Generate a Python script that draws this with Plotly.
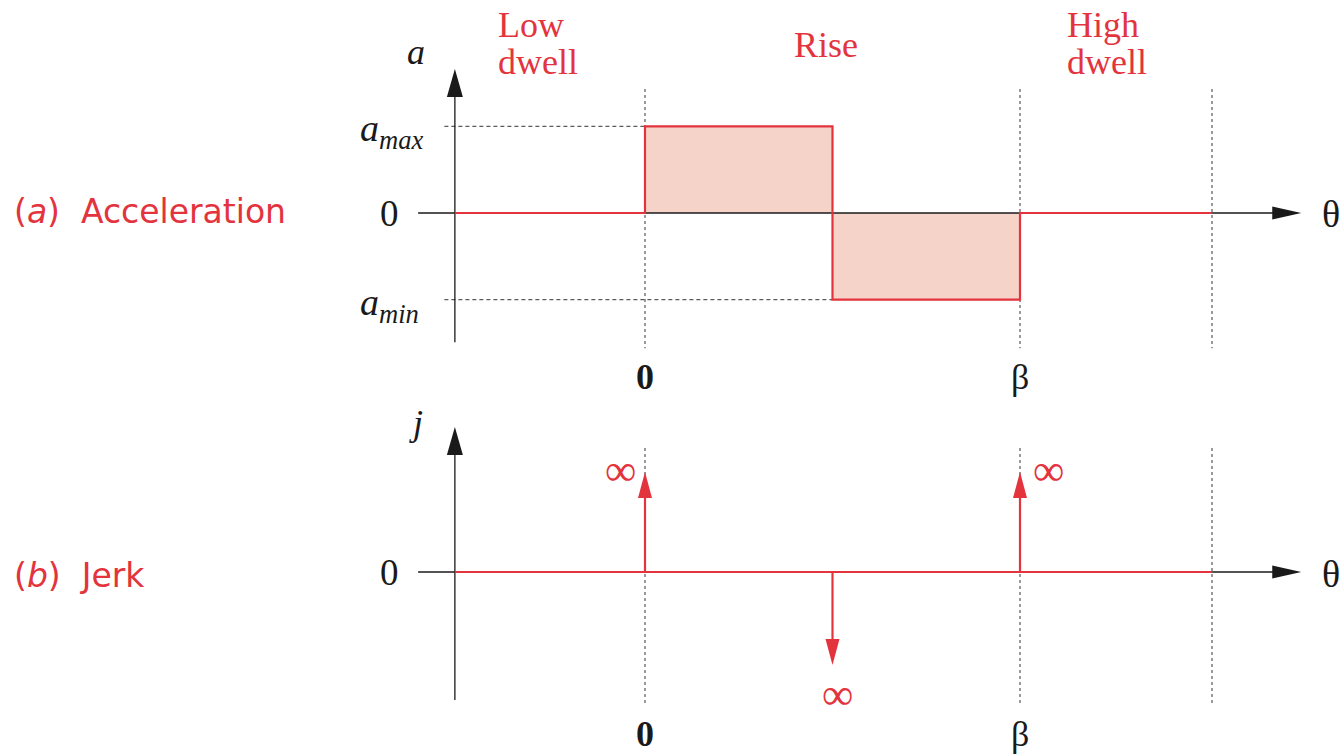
import plotly.graph_objects as go

# ---- cam follower motion: constant-acceleration rise between two dwells ----
# θ is measured in units of the rise angle β
theta_edges = [-0.507, 0.0, 0.5, 1.0, 1.512]      # low dwell | rise (1st half) | rise (2nd half) | high dwell
accel_levels = [0.0, 1.0, -1.0, 0.0]              # a on each segment (a_max = 1, a_min = -1)
jerk_theta = [0.0, 0.5, 1.0]                      # jerk impulses at the acceleration steps
jerk_impulse = [1.0, -0.93, 1.0]                  # drawn impulse height (infinite jerk)
jerk_labels = ["∞", "∞", "∞"]
guide_theta = [0.0, 1.0, 1.512]                   # dotted boundaries between phases
theta_tick_vals = [0.0, 1.0]
theta_tick_text = ["0", "β"]
accel_tick_vals = [1.0, 0.0, -1.0]
accel_tick_text = ["<i>a</i><sub><i>max</i></sub>", "0", "<i>a</i><sub><i>min</i></sub>"]
phase_labels = [["Low", "dwell"], ["Rise"], ["High", "dwell"]]

# ---- page geometry ----
W, H = 1340, 754
X0_PX, PX_PER_BETA = 645, 375.0      # θ = 0 position and scale
A0_PX, PX_PER_A = 213, 86.7          # acceleration zero line and scale
J0_PX, PX_PER_J = 572, 100.0         # jerk zero line and scale

RED = "#E3343E"
PINK = "#F6D3C8"
BLACK = "#1a1a1a"
GREY = "#7a7a7a"
SERIF = "Liberation Serif, Times New Roman, serif"
SANS = "DejaVu Sans, sans-serif"


def px(x):
    return x / W


def py(y):
    return 1 - y / H


axis_theta = theta_edges[0]
x_axis_start, x_axis_tip = -0.605, 1.75
a_axis = (-1.49, 1.66)
j_axis = (-1.28, 1.45)
a_guides = (1.43, -1.56)
j_guides = (1.24, -1.33)
dash_start = -0.535

HEAD_LEN, HEAD_HALF = 28, 8          # black axis arrowheads (px)
IMP_LEN, IMP_HALF = 26, 7            # red impulse arrowheads (px)

# step path of the acceleration curve
acc_x, acc_y = [], []
for i, level in enumerate(accel_levels):
    acc_x += [theta_edges[i], theta_edges[i + 1]]
    acc_y += [level, level]

fig = go.Figure()

# shaded area under acceleration
fig.add_trace(go.Scatter(x=acc_x, y=acc_y, mode="lines", fill="tozeroy",
                         fillcolor=PINK, line=dict(width=0), hoverinfo="skip"))

# dotted phase boundaries
for t in guide_theta:
    fig.add_trace(go.Scatter(x=[t, t], y=list(a_guides), mode="lines",
                             line=dict(color=GREY, width=1.5, dash="3px,3px")))
    fig.add_trace(go.Scatter(x=[t, t], y=list(j_guides), mode="lines", yaxis="y2",
                             line=dict(color=GREY, width=1.5, dash="3px,3px")))

# dashed guides at a_max and a_min
fig.add_trace(go.Scatter(x=[dash_start, theta_edges[1]], y=[accel_levels[1]] * 2, mode="lines",
                         line=dict(color="#333333", width=1, dash="4px,3px")))
fig.add_trace(go.Scatter(x=[dash_start, theta_edges[2]], y=[accel_levels[2]] * 2, mode="lines",
                         line=dict(color="#333333", width=1, dash="4px,3px")))

# black axes (shafts end at the arrowhead bases)
for yref, (lo, hi), scale in (("y", a_axis, PX_PER_A), ("y2", j_axis, PX_PER_J)):
    fig.add_trace(go.Scatter(x=[axis_theta, axis_theta], y=[lo, hi - HEAD_LEN / scale],
                             mode="lines", yaxis=yref, line=dict(color=BLACK, width=1.3)))
    fig.add_trace(go.Scatter(x=[x_axis_start, x_axis_tip - HEAD_LEN / PX_PER_BETA], y=[0, 0],
                             mode="lines", yaxis=yref, line=dict(color=BLACK, width=1.3)))

# acceleration curve
fig.add_trace(go.Scatter(x=acc_x, y=acc_y, mode="lines",
                         line=dict(color=RED, width=2.2)))

# jerk: zero line plus impulses
fig.add_trace(go.Scatter(x=[theta_edges[0], theta_edges[-1]], y=[0, 0], mode="lines", yaxis="y2",
                         line=dict(color=RED, width=2.2)))
for t, j in zip(jerk_theta, jerk_impulse):
    sgn = 1 if j > 0 else -1
    fig.add_trace(go.Scatter(x=[t, t], y=[0, j - sgn * IMP_LEN / PX_PER_J], mode="lines",
                             yaxis="y2", line=dict(color=RED, width=2.2)))

fig.update_traces(showlegend=False, hoverinfo="skip")

shapes = []


def head_up(x, y, yref, length, half, color, down=False):
    s = -1 if down else 1
    return dict(type="path", xref="x", yref=yref, xsizemode="pixel", ysizemode="pixel",
                xanchor=x, yanchor=y,
                path=f"M0,0 L{-half},{-s * length} L{half},{-s * length} Z",
                fillcolor=color, line=dict(width=0), layer="above")


def head_right(x, y, yref, length, half, color):
    return dict(type="path", xref="x", yref=yref, xsizemode="pixel", ysizemode="pixel",
                xanchor=x, yanchor=y,
                path=f"M0,0 L{-length},{half} L{-length},{-half} Z",
                fillcolor=color, line=dict(width=0), layer="above")


shapes.append(head_up(axis_theta, a_axis[1], "y", HEAD_LEN, HEAD_HALF, BLACK))
shapes.append(head_up(axis_theta, j_axis[1], "y2", HEAD_LEN, HEAD_HALF, BLACK))
shapes.append(head_right(x_axis_tip, 0, "y", 29, 6.5, BLACK))
shapes.append(head_right(x_axis_tip, 0, "y2", 29, 6.5, BLACK))
for t, j in zip(jerk_theta, jerk_impulse):
    shapes.append(head_up(t, j, "y2", IMP_LEN, IMP_HALF, RED, down=j < 0))

ann = []


def text(x, y, s, size, color=BLACK, family=SERIF, xanchor="center", **kw):
    d = dict(x=x, y=y, text=s, showarrow=False, xanchor=xanchor, yanchor="middle",
             font=dict(size=size, color=color, family=family))
    d.update(kw)
    ann.append(d)


# phase headings
heading_pos = [(496, "left"), (826, "center"), (1065, "left")]
for (hx, anchor), lines in zip(heading_pos, phase_labels):
    if len(lines) == 1:
        text(px(hx), py(45), lines[0], 36, RED, xanchor=anchor, xref="paper", yref="paper")
    else:
        for k, line in enumerate(lines):
            text(px(hx), py(25 + 37 * k), line, 36, RED, xanchor=anchor, xref="paper", yref="paper")

# panel titles
text(px(12), py(211), "(<i>a</i>)\u00a0\u00a0Acceleration", 33, RED, SANS, "left",
     xref="paper", yref="paper")
text(px(12), py(575), "(<i>b</i>)\u00a0\u00a0Jerk", 33, RED, SANS, "left",
     xref="paper", yref="paper")

# axis names
text(px(416), py(52), "<i>a</i>", 36, xref="paper", yref="paper")
text(px(416), py(423), "<i>j</i>", 36, xref="paper", yref="paper")
text(px(1331), py(214), "θ", 38, xref="paper", yref="paper")
text(px(1331), py(574), "θ", 38, xref="paper", yref="paper")

# acceleration value labels
for v, s in zip(accel_tick_vals, accel_tick_text):
    if s == "0":
        text(px(389), v, s, 37, xref="paper", yref="y")
    else:
        text(px(358), v, s, 38, xanchor="left", xref="paper", yref="y", yshift=-5)
text(px(389), 0, "0", 37, xref="paper", yref="y2")

# θ tick labels under both panels
for v, s in zip(theta_tick_vals, theta_tick_text):
    lab = f"<b>{s}</b>" if s == "0" else s
    text(v, py(377), lab, 36, xref="x", yref="paper")
    text(v, py(734), lab, 36, xref="x", yref="paper")

# infinity labels next to the impulses
inf_offsets = [(-25, 2), (5, -29), (28, 2)]
for t, j, s, (dx, dy) in zip(jerk_theta, jerk_impulse, jerk_labels, inf_offsets):
    text(t, j, s, 44, RED, xref="x", yref="y2", xshift=dx, yshift=dy)

fig.update_layout(
    width=W, height=H,
    margin=dict(l=0, r=0, t=0, b=0),
    paper_bgcolor="white", plot_bgcolor="white",
    xaxis=dict(domain=[0, 1], range=[-X0_PX / PX_PER_BETA, (W - X0_PX) / PX_PER_BETA],
               visible=False, fixedrange=True),
    yaxis=dict(domain=[0, 1], range=[-(H - A0_PX) / PX_PER_A, A0_PX / PX_PER_A],
               visible=False, fixedrange=True),
    yaxis2=dict(overlaying="y", range=[-(H - J0_PX) / PX_PER_J, J0_PX / PX_PER_J],
                visible=False, fixedrange=True),
    shapes=shapes,
    annotations=ann,
    showlegend=False,
)

fig.write_html("out.html")
